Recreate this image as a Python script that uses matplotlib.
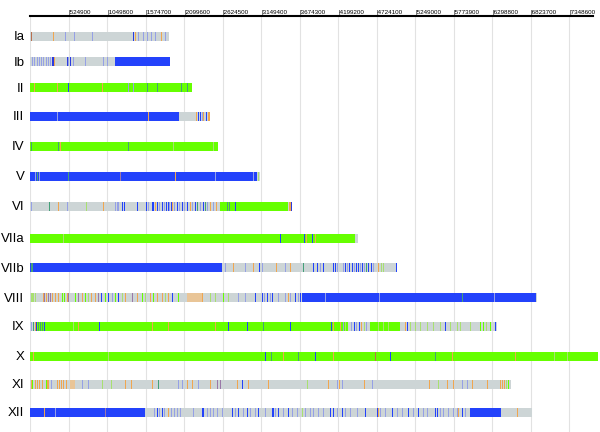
import matplotlib.pyplot as plt

# chromosome names and lengths (Mb)
chroms = ['Ia', 'Ib', 'II', 'III', 'IV', 'V', 'VI', 'VIIa', 'VIIb',
          'VIII', 'IX', 'X', 'XI', 'XII']
lengths = [1.895, 1.909, 2.209, 2.454, 2.563, 3.136, 3.572, 4.472, 5.004,
           6.913, 6.367, 7.744, 6.558, 6.844]
base = ['g', 'g', 'G', 'g', 'G', 'g', 'g', 'g', 'g', 'g', 'g', 'G', 'g', 'g']

# solid blocks: (start Mb, end Mb, colour code)
blocks = {
    'Ib': [(1.159, 1.909, 'B')],
    'III': [(0.0, 2.031, 'B')],
    'V': [(0.0, 3.095, 'B')],
    'VI': [(2.590, 3.518, 'G')],
    'VIIa': [(0.0, 4.431, 'G')],
    'VIIb': [(0.0, 2.618, 'B')],
    'VIII': [(2.141, 2.359, 'O'), (3.708, 6.900, 'B')],
    'IX': [(0.068, 4.336, 'G'), (4.636, 5.045, 'G')],
    'XI': [(0.545, 0.614, 'O')],
    'XII': [(0.0, 1.568, 'B'), (5.999, 6.422, 'B')],
}

# thin stripes: (position Mb, colour code)
stripes = {
    'Ia': [(0.014, 'r'), (0.314, 'o'), (0.477, 'b'), (0.600, 'b'), (0.845, 'b'),
           (1.404, 'd'), (1.432, 'o'), (1.472, 'b'), (1.541, 'b'), (1.595, 'b'),
           (1.650, 'b'), (1.704, 'b'), (1.786, 'o'), (1.841, 'b')],
    'Ib': [(0.027, 'b'), (0.055, 'b'), (0.095, 'b'), (0.123, 'b'), (0.150, 'b'),
           (0.177, 'b'), (0.218, 'b'), (0.245, 'b'), (0.273, 'b'), (0.300, 'd'),
           (0.314, 'd'), (0.327, 'o'), (0.504, 'd'), (0.518, 'b'), (0.545, 'd'),
           (0.586, 'b'), (0.750, 'b'), (0.995, 'b'), (1.050, 'b')],
    'II': [(0.055, 'o'), (0.368, 'o'), (0.518, 'B'), (0.982, 'o'), (1.336, 'b'),
           (1.404, 'b'), (1.595, 't'), (1.732, 't'), (2.059, 't'), (2.141, 't')],
    'III': [(0.368, 'b'), (1.609, 'o'), (2.263, 'o'), (2.290, 'B'), (2.318, 'B'),
            (2.345, 'b'), (2.359, 'o'), (2.400, 'B'), (2.427, 'o'), (2.440, 'o')],
    'IV': [(0.014, 't'), (0.382, 't'), (0.409, 'o'), (1.336, 't'), (1.950, 'l'),
           (2.495, 'l')],
    'V': [(0.068, 'b'), (0.095, 't'), (0.123, 'b'), (0.518, 't'), (1.227, 'p'),
          (1.977, 'o'), (2.522, 'b'), (3.040, 'b'), (3.109, 'l')],
    'VI': [(0.014, 'b'), (0.259, 't'), (0.382, 'o'), (0.504, 'b'), (0.763, 'l'),
           (0.995, 'o'), (1.159, 'b'), (1.186, 'b'), (1.200, 'b'), (1.254, 'B'),
           (1.282, 'B'), (1.459, 'B'), (1.582, 'B'), (1.609, 'b'), (1.663, 'B'),
           (1.677, 'B'), (1.704, 'o'), (1.732, 'B'), (1.759, 'b'), (1.800, 'B'),
           (1.827, 'b'), (1.854, 'B'), (1.882, 'B'), (1.895, 'b'), (1.922, 'B'),
           (1.936, 'o'), (1.963, 'b'), (2.004, 'B'), (2.031, 'b'), (2.072, 'B'),
           (2.100, 'b'), (2.141, 'B'), (2.181, 'o'), (2.209, 'b'), (2.250, 'B'),
           (2.277, 't'), (2.318, 'b'), (2.359, 'B'), (2.386, 't'), (2.413, 'b'),
           (2.454, 'o'), (2.495, 'b'), (2.536, 'o'), (2.686, 't'), (2.713, 't'),
           (2.795, 'B'), (3.531, 'o'), (3.545, 'o'), (3.559, 'd')],
    'VIIa': [(0.450, 'l'), (3.409, 'B'), (3.736, 'B'), (3.763, 'o'), (3.845, 'B'),
             (3.886, 'o')],
    'VIIb': [(0.014, 't'), (0.027, 't'), (2.659, 'b'), (2.768, 'o'), (2.931, 'b'),
             (3.040, 'o'), (3.122, 'B'), (3.163, 'b'), (3.354, 'o'), (3.477, 'b'),
             (3.545, 'o'), (3.722, 't'), (3.858, 'B'), (3.913, 'B'), (3.954, 'b'),
             (3.995, 'B'), (4.131, 'B'), (4.159, 'B'), (4.186, 'b'), (4.267, 'b'),
             (4.295, 'B'), (4.322, 'b'), (4.349, 'B'), (4.390, 'B'), (4.417, 'b'),
             (4.445, 'B'), (4.472, 'B'), (4.499, 'b'), (4.526, 'B'), (4.554, 'b'),
             (4.581, 't'), (4.608, 'B'), (4.649, 'B'), (4.676, 'b'), (4.745, 'o'),
             (4.786, 'l'), (4.813, 'l'), (4.990, 'B')],
    'VIII': [(0.014, 'l'), (0.027, 'l'), (0.041, 'l'), (0.068, 'l'), (0.177, 'o'),
             (0.191, 'p'), (0.218, 'o'), (0.245, 'p'), (0.273, 'p'), (0.300, 'o'),
             (0.341, 'o'), (0.382, 'o'), (0.436, 'G'), (0.464, 'G'), (0.504, 'o'),
             (0.518, 'p'), (0.614, 'G'), (0.654, 'p'), (0.709, 'o'), (0.750, 'G'),
             (0.791, 'l'), (0.832, 'o'), (0.886, 'o'), (0.927, 'p'), (0.968, 'B'),
             (1.023, 'G'), (1.063, 'B'), (1.118, 'b'), (1.159, 'G'), (1.200, 'B'),
             (1.254, 'l'), (1.295, 'o'), (1.391, 'p'), (1.459, 'o'), (1.527, 'G'),
             (1.568, 'l'), (1.636, 'o'), (1.677, 'G'), (1.732, 'o'), (1.800, 'o'),
             (1.841, 'l'), (1.882, 'o'), (1.936, 'B'), (2.018, 'G'), (2.345, 'o'),
             (2.454, 'l'), (2.522, 'l'), (2.631, 'G'), (2.700, 'l'), (2.836, 'b'),
             (2.931, 'b'), (3.068, 'B'), (3.163, 'B'), (3.190, 'b'), (3.231, 'B'),
             (3.272, 'b'), (3.299, 'B'), (3.381, 'b'), (3.477, 'b'), (3.518, 'o'),
             (3.545, 'b'), (3.613, 'B'), (3.654, 'b'), (3.681, 'B'), (4.022, 'b'),
             (4.758, 'b'), (5.890, 't'), (6.326, 'b')],
    'IX': [(0.014, 'b'), (0.041, 't'), (0.068, 'o'), (0.082, 'd'), (0.109, 't'),
           (0.136, 't'), (0.164, 't'), (0.191, 'B'), (0.586, 'l'), (0.654, 'o'),
           (0.941, 'B'), (1.663, 'o'), (1.882, 'o'), (2.522, 'o'), (2.700, 'B'),
           (2.959, 'B'), (3.177, 't'), (3.545, 'B'), (4.104, 'B'), (4.131, 'o'),
           (4.227, 'o'), (4.267, 'b'), (4.295, 'l'), (4.377, 'b'), (4.417, 'B'),
           (4.445, 'b'), (4.486, 'B'), (4.513, 'o'), (4.554, 'l'), (4.581, 'b'),
           (4.745, 'l'), (4.813, 'l'), (4.881, 'l'), (5.113, 'o'), (5.140, 'B'),
           (5.181, 'l'), (5.249, 'l'), (5.317, 'l'), (5.413, 'l'), (5.494, 'l'),
           (5.590, 'l'), (5.658, 'B'), (5.726, 'l'), (5.822, 'l'), (5.863, 'l'),
           (5.999, 'l'), (6.135, 'G'), (6.176, 'G'), (6.217, 'l'), (6.272, 'G'),
           (6.340, 'B')],
    'X': [(0.041, 'o'), (1.063, 'l'), (3.204, 'B'), (3.286, 't'), (3.449, 'o'),
          (3.654, 't'), (3.886, 'B'), (4.131, 'o'), (4.704, 'r'), (4.908, 'B'),
          (5.522, 't'), (5.754, 'o'), (6.612, 'o'), (7.144, 'l'), (7.321, 'l')],
    'XI': [(0.014, 'o'), (0.027, 'G'), (0.068, 'o'), (0.095, 'o'), (0.123, 'o'),
           (0.164, 'o'), (0.218, 'G'), (0.232, 'o'), (0.245, 'o'), (0.286, 'b'),
           (0.368, 'o'), (0.395, 'o'), (0.423, 'o'), (0.450, 'o'), (0.491, 'o'),
           (0.709, 'b'), (0.791, 'b'), (0.982, 'l'), (1.104, 'l'), (1.295, 'o'),
           (1.377, 'o'), (1.663, 'o'), (1.745, 't'), (2.018, 'b'), (2.072, 'b'),
           (2.141, 'o'), (2.209, 'o'), (2.290, 'b'), (2.454, 'o'), (2.550, 'p'),
           (2.590, 'p'), (2.822, 'o'), (2.890, 'B'), (2.972, 'o'), (3.245, 'o'),
           (3.777, 'l'), (4.063, 'o'), (4.186, 'b'), (4.213, 'o'), (4.254, 'b'),
           (4.554, 'o'), (4.663, 'b'), (5.440, 'o'), (5.563, 'l'), (5.685, 'o'),
           (5.767, 'o'), (5.890, 'b'), (5.958, 'b'), (6.026, 'o'), (6.231, 'o'),
           (6.408, 'o'), (6.435, 'o'), (6.463, 'o'), (6.490, 'l'), (6.517, 'G')],
    'XII': [(0.191, 'o'), (0.341, 'b'), (1.023, 'p'), (1.691, 'b'), (1.732, 'B'),
            (1.759, 'b'), (1.800, 'B'), (1.827, 'b'), (1.882, 'o'), (1.922, 'b'),
            (1.963, 'b'), (2.004, 'b'), (2.045, 'b'), (2.222, 'b'), (2.345, 'B'),
            (2.359, 'B'), (2.413, 'b'), (2.454, 'b'), (2.495, 'b'), (2.550, 'b'),
            (2.618, 'b'), (2.754, 'B'), (2.795, 'b'), (2.836, 'B'), (2.904, 'b'),
            (2.959, 'B'), (3.000, 'b'), (3.068, 'b'), (3.109, 'B'), (3.204, 'b'),
            (3.313, 'B'), (3.299, 'B'), (3.340, 'b'), (3.381, 'B'), (3.449, 'b'),
            (3.518, 'B'), (3.572, 'b'), (3.640, 'b'), (3.708, 'l'), (3.749, 'b'),
            (3.818, 'b'), (3.858, 'b'), (3.927, 'b'), (3.995, 'b'), (4.090, 'B'),
            (4.131, 'B'), (4.186, 'b'), (4.254, 'B'), (4.295, 'b'), (4.363, 'b'),
            (4.458, 'b'), (4.567, 'B'), (4.731, 'B'), (4.745, 'o'), (4.772, 'b'),
            (4.840, 'b'), (4.935, 'B'), (5.004, 'b'), (5.072, 'b'), (5.154, 'B'),
            (5.222, 'b'), (5.290, 'B'), (5.358, 'b'), (5.413, 'b'), (5.522, 'B'),
            (5.549, 'B'), (5.590, 'b'), (5.631, 'b'), (5.699, 'b'), (5.767, 'b'),
            (5.822, 'b'), (5.835, 'o'), (5.890, 'B'), (5.931, 'b'), (6.640, 'o')],
}

tick_values = [524900, 1049800, 1574700, 2099600, 2624500, 3149400, 3674300,
               4199200, 4724100, 5249000, 5773900, 6298800, 6823700, 7348600]

colors = {'g': '#cdd5d6', 'B': '#2342fb', 'G': '#66ff00', 'o': '#f0a650',
          'O': '#e9c597', 'b': '#95a0e6', 'd': '#2a3ae0', 't': '#44a078',
          'p': '#9a78a8', 'l': '#a8e070', 'r': '#b87050'}

# layout: row centres (pixels below the top line)
row_y = [20, 45, 71, 100, 130, 160, 190, 222, 251, 281, 310, 340, 368, 396]
bar_h = 9
stripe_w = 0.016

fig = plt.figure(figsize=(6, 4.32), dpi=100)
ax = fig.add_axes([30 / 600, 0, 563 / 600, 416 / 432])

for name, L, bc, y in zip(chroms, lengths, base, row_y):
    yr = (y - bar_h / 2, bar_h)
    ax.broken_barh([(0, L * 1e6)], yr, facecolors=colors[bc], linewidth=0,
                   clip_on=False)
    for s, e, c in blocks.get(name, []):
        ax.broken_barh([(s * 1e6, (e - s) * 1e6)], yr, facecolors=colors[c],
                       linewidth=0, clip_on=False)
    groups = {}
    for p, c in stripes.get(name, []):
        groups.setdefault(c, []).append((p * 1e6, stripe_w * 1e6))
    for c, segs in groups.items():
        ax.broken_barh(segs, yr, facecolors=colors[c], linewidth=0,
                       clip_on=False)

ax.set_xlim(0, 7675800)
ax.set_ylim(416, 0)

ax.xaxis.tick_top()
ax.set_xticks([0] + tick_values)
ax.set_xticklabels([''] + ['|' + str(v) for v in tick_values],
                   fontsize=4.5, ha='left',
                   family=['Liberation Sans', 'DejaVu Sans'])
ax.tick_params(axis='x', length=0, pad=1)
ax.grid(axis='x', color='#e2e2e2', linewidth=0.8)
ax.set_axisbelow(True)

ax.set_yticks(row_y)
ax.set_yticklabels(chroms, fontsize=9.5, family=['Liberation Sans', 'DejaVu Sans'])
ax.tick_params(axis='y', length=0, pad=4)

for side in ['left', 'right', 'bottom']:
    ax.spines[side].set_visible(False)
ax.spines['top'].set_linewidth(1.5)

fig.savefig('out.png', dpi=100)
